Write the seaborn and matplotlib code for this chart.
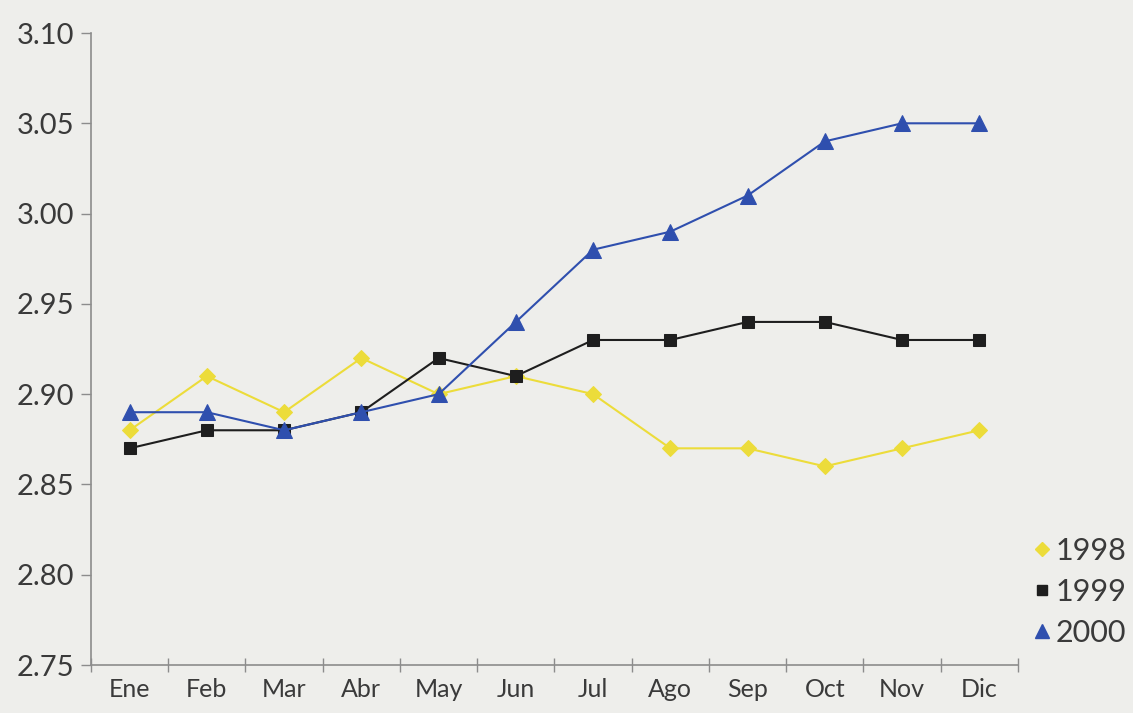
import pandas as pd
import numpy as np
import matplotlib
matplotlib.use("Agg")
import matplotlib.pyplot as plt
from matplotlib.lines import Line2D
import seaborn as sns

# --- Data ---
months = ["Ene", "Feb", "Mar", "Abr", "May", "Jun",
          "Jul", "Ago", "Sep", "Oct", "Nov", "Dic"]
years = ["1998", "1999", "2000"]
values_1998 = [2.88, 2.91, 2.89, 2.92, 2.90, 2.91, 2.90, 2.87, 2.87, 2.86, 2.87, 2.88]
values_1999 = [2.87, 2.88, 2.88, 2.89, 2.92, 2.91, 2.93, 2.93, 2.94, 2.94, 2.93, 2.93]
values_2000 = [2.89, 2.89, 2.88, 2.89, 2.90, 2.94, 2.98, 2.99, 3.01, 3.04, 3.05, 3.05]
y_ticks = [2.75, 2.80, 2.85, 2.90, 2.95, 3.00, 3.05, 3.10]

df = pd.DataFrame({
    "mes": months * 3,
    "idx": list(range(len(months))) * 3,
    "año": np.repeat(years, len(months)),
    "valor": values_1998 + values_1999 + values_2000,
})

# styling
bg = "#eeeeeb"
axis_grey = "#8c8c8c"
text_col = "#3a3a3a"
palette = {"1998": "#ecdc3a", "1999": "#1e1e1e", "2000": "#2f4fae"}
markers = {"1998": "D", "1999": "s", "2000": "^"}
msizes = {"1998": 8, "1999": 8, "2000": 11}

sns.set_style("white")
plt.rcParams["font.family"] = ["Lato", "DejaVu Sans"]

fig = plt.figure(figsize=(11.33, 7.13), dpi=100, facecolor=bg)
ax = fig.add_axes([0.0803, 0.0673, 0.8182, 0.8864])
ax.set_facecolor(bg)

for yr in years:
    sub = df[df["año"] == yr]
    sns.lineplot(data=sub, x="idx", y="valor", ax=ax, color=palette[yr],
                 marker=markers[yr], markersize=msizes[yr],
                 markeredgecolor=palette[yr], linewidth=1.5,
                 legend=False)

ax.set_xlim(-0.5, len(months) - 0.5)
ax.set_ylim(2.75, 3.10)
ax.set_yticks(y_ticks)
ax.set_yticklabels([f"{v:.2f}" for v in y_ticks])
ax.set_xticks(range(len(months)))
ax.set_xticklabels(months)
ax.set_xticks(np.arange(-0.5, len(months)), minor=True)
ax.set_xlabel("")
ax.set_ylabel("")

for side in ["top", "right"]:
    ax.spines[side].set_visible(False)
for side in ["left", "bottom"]:
    ax.spines[side].set_color(axis_grey)
    ax.spines[side].set_linewidth(1.2)

ax.tick_params(axis="y", direction="out", length=7, width=1, color=axis_grey,
               labelsize=21, labelcolor=text_col, pad=5, left=True)
ax.tick_params(axis="x", which="major", length=0, labelsize=18,
               labelcolor=text_col, pad=9)
ax.tick_params(axis="x", which="minor", direction="inout", length=10,
               width=1, color=axis_grey, bottom=True)

handles = [Line2D([], [], linestyle="none", marker=markers[yr],
                  markersize=msizes[yr] - 1, color=palette[yr],
                  markeredgecolor=palette[yr], label=yr) for yr in years]
fig.legend(handles=handles, loc="center left", bbox_to_anchor=(0.898, 0.17),
           frameon=False, fontsize=22, labelcolor=text_col,
           handletextpad=0.05, handlelength=0.8, labelspacing=0.42,
           borderaxespad=0)

fig.savefig("out.png", dpi=100, facecolor=bg)
